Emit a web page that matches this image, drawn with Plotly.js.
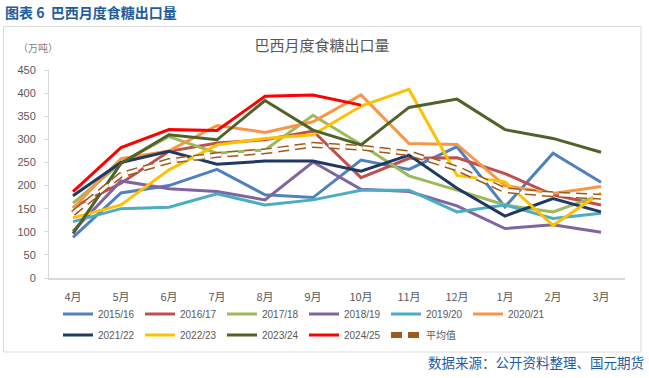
<!DOCTYPE html>
<html>
<head>
<meta charset="utf-8">
<script src="https://cdn.plot.ly/plotly-3.0.1.min.js"></script>
<style>html,body{margin:0;padding:0;background:#fff;}#chart{width:649px;height:378px;}</style>
</head>
<body>
<div id="chart"></div>
<script>
var months = ['4月','5月','6月','7月','8月','9月','10月','11月','12月','1月','2月','3月'];
var seriesNames = ['2015/16','2016/17','2017/18','2018/19','2019/20','2020/21','2021/22','2022/23','2023/24','2024/25'];
var s1516 = [88,184,200,235,180,174,255,235,284,154,270,207];
var s1617 = [153,205,274,292,299,318,217,259,260,226,180,158];
var s1718 = [162,249,306,270,277,352,289,221,190,158,143,180];
var s1819 = [101,210,193,187,169,251,192,187,156,107,115,99];
var s1920 = [122,150,153,182,158,169,190,190,143,158,129,140];
var s2021 = [151,258,275,330,315,338,396,291,289,200,183,198];
var s2122 = [178,250,274,246,253,253,231,266,194,134,172,143];
var s2223 = [130,158,234,288,302,310,372,408,222,208,114,184];
var s2324 = [96,248,310,299,384,320,288,369,387,321,302,272];
var s2425 = [187,282,321,319,393,396,374,null,null,null,null,null];
var avgName = '平均值';
var avgVals = [140,223,253,266,274,288,282,270,237,190,181,176];

var values = [s1516,s1617,s1718,s1819,s1920,s2021,s2122,s2223,s2324,s2425];
var colors = ['#4F81BD','#C0504D','#9BBB59','#8064A2','#4BACC6','#F79646','#1F3864','#FFC000','#4F6228','#FF0000'];

var traces = [];
for (var i = 0; i < values.length; i++) {
  traces.push({
    type:'scatter', mode:'lines', x: months, y: values[i], name: seriesNames[i],
    line:{color: colors[i], width: 3},
    legend: i < 6 ? 'legend' : 'legend2',
    connectgaps:false
  });
}
traces.push({type:'scatter', mode:'lines', x: months, y: avgVals, name: avgName,
  line:{color:'#9E5A1C', width:6, dash:'11px,6px'}, legend:'legend2'});
traces.push({type:'scatter', mode:'lines', x: months, y: avgVals, name: avgName, showlegend:false,
  line:{color:'#FFFFFF', width:3, dash:'11px,6px'}, hoverinfo:'skip'});

var L = 49, T = 70, W = 576, H = 208;
function px(x){return (x - L)/W;}
function py(y){return (T + H - y)/H;}

var legFont = {family:'Liberation Sans, Noto Sans CJK SC, sans-serif', size:10, color:'#595959'};
var blue = '#1F5C9E';

var layout = {
  width:649, height:378,
  margin:{l:L, r:649-L-W, t:T, b:378-T-H},
  paper_bgcolor:'#fff', plot_bgcolor:'#fff',
  showlegend:true,
  title:{text:'巴西月度食糖出口量', x:322/649, xanchor:'center', y:1-46/378, yanchor:'middle',
         font:{family:'Noto Sans CJK SC, sans-serif', size:15, color:'#595959'}},
  xaxis:{type:'category', range:[-0.5,11.5], showgrid:false, zeroline:false, showline:true,
         linecolor:'#D9D9D9', linewidth:1.5, ticks:'', ticklabelstandoff:8,
         tickfont:{family:'Noto Sans CJK SC, sans-serif', size:11, color:'#595959'}, fixedrange:true},
  yaxis:{range:[0,450], tickvals:[0,50,100,150,200,250,300,350,400,450], showgrid:false, zeroline:false,
         showline:true, linecolor:'#D9D9D9', linewidth:1, ticks:'outside', ticklen:4, tickcolor:'#D9D9D9',
         ticklabelstandoff:6,
         tickfont:{family:'Liberation Sans, Arial, sans-serif', size:11, color:'#595959'}, fixedrange:true},
  legend:{orientation:'h', x:px(58), xanchor:'left', y:py(314), yanchor:'middle', font:legFont,
          entrywidth:37, entrywidthmode:'pixels', bgcolor:'rgba(0,0,0,0)', itemwidth:30, traceorder:'normal'},
  legend2:{orientation:'h', x:px(58), xanchor:'left', y:py(335), yanchor:'middle', font:legFont,
          entrywidth:37, entrywidthmode:'pixels', bgcolor:'rgba(0,0,0,0)', itemwidth:30, traceorder:'normal'},
  shapes:[{type:'rect', xref:'paper', yref:'paper', x0:px(3.5), x1:px(641), y0:py(352), y1:py(26.5),
           line:{color:'#D9D9D9', width:1}, fillcolor:'rgba(0,0,0,0)', layer:'below'}],
  annotations:[
    {text:'<b>图表 6  巴西月度食糖出口量</b>', xref:'paper', yref:'paper', x:px(3), y:py(12), xanchor:'left', yanchor:'middle',
     showarrow:false, font:{family:'Noto Sans CJK SC, sans-serif', size:14, color:blue}},
    {text:'（万吨）', xref:'paper', yref:'paper', x:px(38), y:py(48), xanchor:'center', yanchor:'middle',
     showarrow:false, font:{family:'Noto Sans CJK SC, sans-serif', size:10, color:'#7F7F7F'}},
    {text:'数据来源：公开资料整理、国元期货', xref:'paper', yref:'paper', x:px(646), y:py(362), xanchor:'right', yanchor:'middle',
     showarrow:false, font:{family:'Noto Sans CJK SC, sans-serif', size:13.5, color:blue}}
  ]
};

Plotly.newPlot('chart', traces, layout, {displayModeBar:false, staticPlot:true});
</script>
</body>
</html>
